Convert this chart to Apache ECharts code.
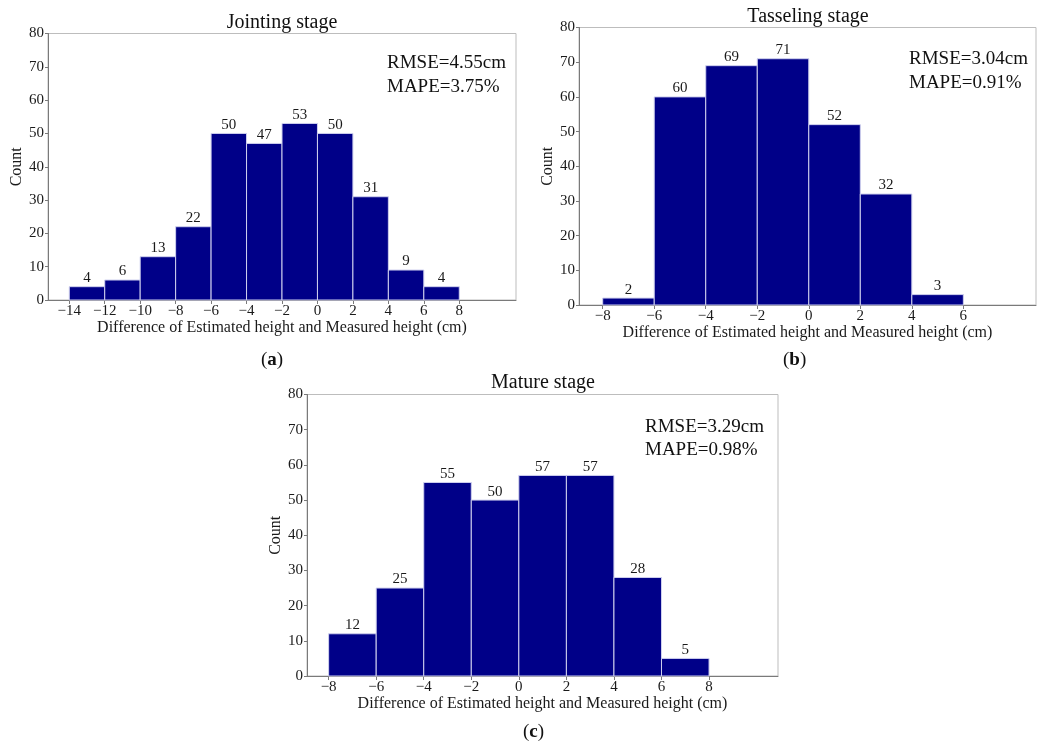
<!DOCTYPE html>
<html>
<head>
<meta charset="utf-8">
<title>Height difference histograms</title>
<script src="https://cdn.jsdelivr.net/npm/echarts@6/dist/echarts.min.js"></script>
<style>
  html, body { margin: 0; padding: 0; background: #fff; }
  #chart { width: 1042px; height: 745px; }
</style>
</head>
<body>
<div id="chart"></div>
<script>
// Bin edges and counts for each growth stage
const jointingEdges = [-14, -12, -10, -8, -6, -4, -2, 0, 2, 4, 6, 8];
const jointingCounts = [4, 6, 13, 22, 50, 47, 53, 50, 31, 9, 4];

const tasselingEdges = [-8, -6, -4, -2, 0, 2, 4, 6];
const tasselingCounts = [2, 60, 69, 71, 52, 32, 3];

const matureEdges = [-8, -6, -4, -2, 0, 2, 4, 6, 8];
const matureCounts = [12, 25, 55, 50, 57, 57, 28, 5];

const countTicks = [0, 10, 20, 30, 40, 50, 60, 70, 80];

const stageTitles = ['Jointing stage', 'Tasseling stage', 'Mature stage'];
const rmseTexts = ['RMSE=4.55cm', 'RMSE=3.04cm', 'RMSE=3.29cm'];
const mapeTexts = ['MAPE=3.75%', 'MAPE=0.91%', 'MAPE=0.98%'];
const panelTags = ['a', 'b', 'c'];
const xAxisTitle = 'Difference of Estimated height and Measured height (cm)';
const yAxisTitle = 'Count';

const SERIF = '"Liberation Serif", "Times New Roman", serif';
const BAR_FILL = '#000088';
const FRAME = '#bdbdbd';
const AXIS = '#7a7a7a';

// panel geometry: plot areas and x-axis extents
const panels = [
  { edges: jointingEdges, counts: jointingCounts, left: 48, top: 33.5, width: 468, height: 266.5, xmin: -15.2, xmax: 11.2 },
  { edges: tasselingEdges, counts: tasselingCounts, left: 579, top: 27.5, width: 457, height: 277.5, xmin: -8.92, xmax: 8.82 },
  { edges: matureEdges, counts: matureCounts, left: 307, top: 394.5, width: 471, height: 281.5, xmin: -8.91, xmax: 10.9 }
];

function binData(edges, counts) {
  return counts.map((c, i) => [edges[i], edges[i + 1], c]);
}

function renderBin(params, api) {
  const lo = api.value(0), hi = api.value(1), c = api.value(2);
  const pTop = api.coord([lo, c]);
  const pBot = api.coord([hi, 0]);
  return {
    type: 'group',
    children: [
      {
        type: 'rect',
        shape: { x: pTop[0], y: pTop[1], width: pBot[0] - pTop[0], height: pBot[1] - pTop[1] },
        style: { fill: BAR_FILL, stroke: '#cfd0ee', lineWidth: 1 }
      },
      {
        type: 'text',
        style: {
          text: String(c),
          x: (pTop[0] + pBot[0]) / 2,
          y: pTop[1] - 1,
          textAlign: 'center',
          textVerticalAlign: 'bottom',
          font: '15px ' + SERIF,
          fill: '#1a1a1a'
        }
      }
    ]
  };
}

const minusFmt = v => String(v).replace('-', '\u2212');

const grids = [], xAxes = [], yAxes = [], series = [], graphics = [];

panels.forEach((p, i) => {
  grids.push({
    left: p.left, top: p.top, width: p.width, height: p.height,
    show: true, borderColor: FRAME, borderWidth: 1, backgroundColor: 'transparent'
  });
  xAxes.push({
    type: 'value', gridIndex: i, min: p.xmin, max: p.xmax,
    splitLine: { show: false },
    axisLine: { show: true, onZero: false, lineStyle: { color: AXIS, width: 1 } },
    axisTick: { show: true, length: 4, lineStyle: { color: AXIS }, customValues: p.edges },
    axisLabel: {
      customValues: p.edges, formatter: minusFmt, margin: 4,
      fontFamily: SERIF, fontSize: 15, color: '#1a1a1a'
    },
    name: xAxisTitle, nameLocation: 'middle', nameGap: i === 0 ? 17 : 19,
    nameTextStyle: { fontFamily: SERIF, fontSize: 16, color: '#1a1a1a' }
  });
  yAxes.push({
    type: 'value', gridIndex: i, min: 0, max: 80, interval: 10,
    splitLine: { show: false },
    axisLine: { show: true, onZero: false, lineStyle: { color: AXIS, width: 1 } },
    axisTick: { show: true, length: 3, lineStyle: { color: AXIS }, customValues: countTicks },
    axisLabel: { customValues: countTicks, margin: 4, fontFamily: SERIF, fontSize: 15, color: '#1a1a1a' },
    name: yAxisTitle, nameLocation: 'middle', nameGap: 14,
    nameTextStyle: { fontFamily: SERIF, fontSize: 16, color: '#1a1a1a' }
  });
  series.push({
    type: 'custom', xAxisIndex: i, yAxisIndex: i,
    data: binData(p.edges, p.counts),
    renderItem: renderBin,
    encode: { x: [0, 1], y: 2 },
    silent: true, animation: false
  });
});

// stage titles, error statistics and panel tags
const titlePos = [[282, 23], [808, 17], [543, 383]];
const statPos = [[387, 63, 87], [909, 59, 83], [645, 427, 450]];
const tagPos = [[261, 360], [783, 360], [523, 732]];

for (let i = 0; i < 3; i++) {
  graphics.push({
    type: 'text', x: titlePos[i][0], y: titlePos[i][1],
    style: { text: stageTitles[i], textAlign: 'center', textVerticalAlign: 'middle', font: '20px ' + SERIF, fill: '#111' }
  });
  graphics.push({
    type: 'text', x: statPos[i][0], y: statPos[i][1],
    style: { text: rmseTexts[i], textAlign: 'left', textVerticalAlign: 'middle', font: '19px ' + SERIF, fill: '#111' }
  });
  graphics.push({
    type: 'text', x: statPos[i][0], y: statPos[i][2],
    style: { text: mapeTexts[i], textAlign: 'left', textVerticalAlign: 'middle', font: '19px ' + SERIF, fill: '#111' }
  });
  graphics.push({
    type: 'text', x: tagPos[i][0], y: tagPos[i][1],
    style: {
      text: '{p|(}{b|' + panelTags[i] + '}{p|)}',
      textAlign: 'left', textVerticalAlign: 'middle',
      rich: {
        p: { fontFamily: SERIF, fontSize: 19, fill: '#111' },
        b: { fontFamily: SERIF, fontSize: 19, fontWeight: 'bold', fill: '#111' }
      }
    }
  });
}

const chart = echarts.init(document.getElementById('chart'), null, { renderer: 'canvas' });
chart.setOption({
  animation: false,
  backgroundColor: '#fff',
  grid: grids,
  xAxis: xAxes,
  yAxis: yAxes,
  series: series,
  graphic: graphics
});
</script>
</body>
</html>
